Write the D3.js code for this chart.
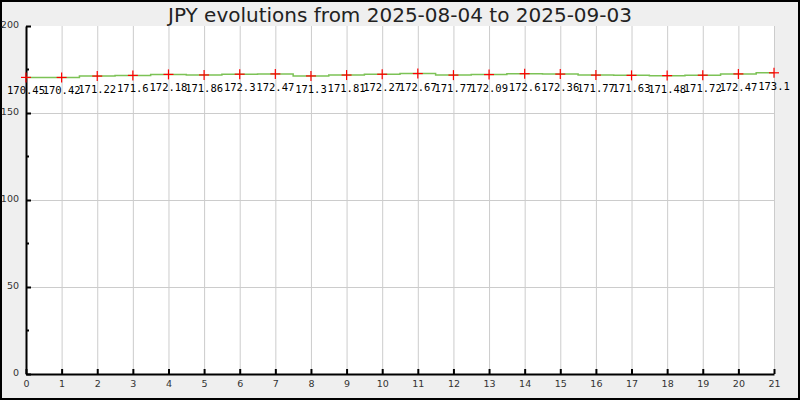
<!DOCTYPE html>
<html><head><meta charset="utf-8">
<script src="https://cdn.jsdelivr.net/npm/d3@7"></script>
<style>body{margin:0;background:#efefef;}svg{display:block;}</style>
</head><body>
<svg id="chart" width="800" height="400"></svg>
<script>
const title = "JPY evolutions from 2025-08-04 to 2025-09-03";
const indices = d3.range(0, 22);
const values = [170.45,170.42,171.22,171.6,172.18,171.86,172.3,172.47,171.3,171.81,172.27,172.67,171.77,172.09,172.6,172.36,171.77,171.63,171.48,171.72,172.47,173.1];
const yMajorTicks = [0,50,100,150,200];
const yMinorTicks = [25,75,125,175];
const yGridTicks = [50,100,150];

const svg = d3.select("#chart");
const W = 800, H = 400;
const m = {left:26, right:26, top:26, bottom:26};

svg.append("rect").attr("x",1).attr("y",1).attr("width",W-2).attr("height",H-2)
  .attr("fill","#efefef").attr("stroke","#000").attr("stroke-width",2);

const x = d3.scaleLinear().domain([0,21]).range([m.left, W-m.right]);
const y = d3.scaleLinear().domain([0,200]).range([H-m.bottom, m.top]);

svg.append("rect").attr("x",m.left).attr("y",m.top)
  .attr("width",W-m.left-m.right).attr("height",H-m.top-m.bottom).attr("fill","#fff");

// grid
svg.append("g").selectAll("line").data(indices.filter(d=>d>0)).join("line")
  .attr("x1",d=>x(d)+0.5).attr("x2",d=>x(d)+0.5).attr("y1",y(0)).attr("y2",y(200))
  .attr("stroke","#cccccc").attr("stroke-width",1);
svg.append("g").selectAll("line").data(yGridTicks).join("line")
  .attr("x1",x(0)).attr("x2",x(21)).attr("y1",d=>Math.round(y(d))+0.5).attr("y2",d=>Math.round(y(d))+0.5)
  .attr("stroke","#cccccc").attr("stroke-width",1);

// axes
const xAxis = d3.axisBottom(x).tickValues(indices).tickSize(-5).tickSizeOuter(0).tickPadding(6).tickFormat(d3.format("d"));
const gx = svg.append("g").attr("transform",`translate(0,${y(0)})`).call(xAxis);
gx.select(".domain").attr("stroke","#000").attr("stroke-width",2);
gx.selectAll(".tick line").attr("stroke","#000").attr("stroke-width",2);
gx.selectAll("text").attr("font-family","DejaVu Sans, sans-serif").attr("font-size",9.5).attr("fill","#333");

const yAxis = d3.axisLeft(y).tickValues(yMajorTicks).tickSize(-5).tickSizeOuter(0).tickPadding(7);
const gy = svg.append("g").attr("transform",`translate(${x(0)},0)`).call(yAxis);
gy.select(".domain").attr("stroke","#000").attr("stroke-width",2);
gy.selectAll(".tick line").attr("stroke","#000").attr("stroke-width",2);
gy.selectAll("text").attr("font-family","DejaVu Sans, sans-serif").attr("font-size",9.5).attr("fill","#333");
gy.selectAll(".tick text").attr("dy","0.15em");
gy.append("g").selectAll("line").data(yMinorTicks).join("line")
  .attr("x1",0).attr("x2",3).attr("y1",d=>y(d)).attr("y2",d=>y(d)).attr("stroke","#000").attr("stroke-width",2);

// line (step)
const line = d3.line().x((d,i)=>x(indices[i])).y(d=>y(d)).curve(d3.curveStep);
svg.append("path").datum(values).attr("d",line).attr("fill","none")
  .attr("stroke","#7cc256").attr("stroke-width",1.5);

// crosses
const pts = svg.append("g").selectAll("g").data(values).join("g")
  .attr("transform",(d,i)=>`translate(${x(indices[i])},${y(d)})`);
pts.append("line").attr("x1",-5).attr("x2",5).attr("y1",0).attr("y2",0).attr("stroke","#ff0000").attr("stroke-width",1.2);
pts.append("line").attr("x1",0).attr("x2",0).attr("y1",-5).attr("y2",5).attr("stroke","#ff0000").attr("stroke-width",1.2);

// value labels
svg.append("g").selectAll("text").data(values).join("text")
  .attr("x",(d,i)=>x(indices[i])).attr("y",d=>y(d)+17)
  .attr("text-anchor","middle").attr("font-family","DejaVu Sans Mono, monospace")
  .attr("font-size",10.5).attr("fill","#000").text(d=>String(d));

// title
svg.append("text").attr("x",W/2).attr("y",22).attr("text-anchor","middle")
  .attr("font-family","DejaVu Sans, sans-serif").attr("font-size",20).attr("fill","#222").text(title);
</script>
</body></html>
